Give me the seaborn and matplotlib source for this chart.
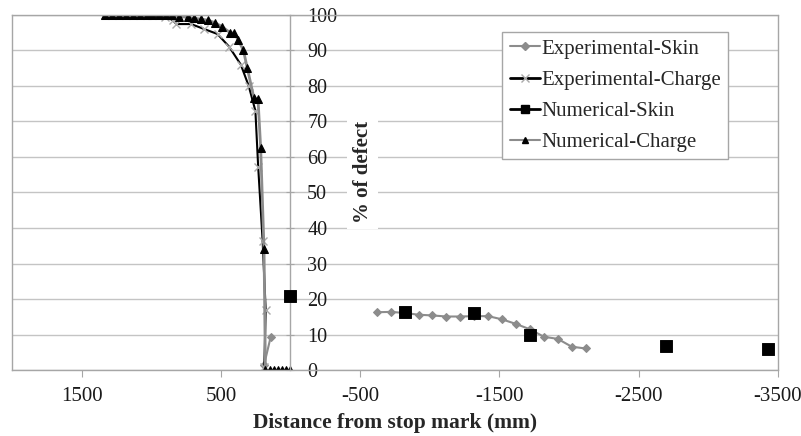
import pandas as pd
import seaborn as sns
import matplotlib.pyplot as plt
from matplotlib.lines import Line2D

# distance from stop mark (mm) and % of defect
exp_skin_x = [190, 143, -620, -720, -820, -920, -1020, -1120, -1220, -1320,
              -1420, -1520, -1620, -1720, -1820, -1920, -2020, -2120]
exp_skin_y = [1.4, 9.2, 16.3, 16.4, 16.1, 15.6, 15.4, 15.1, 15.1, 15.2,
              15.2, 14.3, 13.0, 11.5, 9.4, 8.8, 6.6, 6.1]
exp_skin_seg = [0, 0] + [1] * 16

exp_charge_x = [1330, 1100, 900, 845, 820, 714, 620, 524, 440, 357, 300,
                252, 232, 200, 178, 188]
exp_charge_y = [100, 100, 99.5, 98.5, 97.4, 97.4, 96.0, 94.6, 91.0, 86.0,
                80.0, 73.0, 57.3, 36.4, 16.9, 1.0]

num_skin_x = [0, -820, -1320, -1720, -2700, -3430]
num_skin_y = [21.0, 16.3, 16.0, 10.0, 6.8, 5.9]

num_charge_x = [1333, 1283, 1233, 1183, 1133, 1083, 1033, 993, 945, 893, 850,
                798, 738, 690, 643, 595, 543, 493, 434, 405, 376, 338, 310,
                262, 233, 214, 190, 180, 150, 120, 90, 60, 30, 0]
num_charge_y = [100] * 11 + [99.5, 99.3, 99.0, 98.8, 98.5, 97.8, 96.7, 95.0,
                             94.8, 93.0, 90.0, 85.0, 76.5, 76.2, 62.5, 34.0,
                             0, 0, 0, 0, 0, 0, 0]

x_ticks = [1500, 500, -500, -1500, -2500, -3500]
y_ticks = list(range(0, 101, 10))

grey = "#8c8c8c"
border = "#a6a6a6"
grid = "#c4c4c4"

sns.set_style("white")
plt.rcParams['font.family'] = ['Liberation Serif', 'DejaVu Serif']

fig = plt.figure(figsize=(8.01, 4.36), dpi=100)
ax = fig.add_axes([0.015, 0.151, 0.956, 0.815])

skin = pd.DataFrame({'x': exp_skin_x, 'y': exp_skin_y, 'seg': exp_skin_seg})
sns.lineplot(data=skin, x='x', y='y', units='seg', estimator=None, sort=False,
             color=grey, lw=1.5, marker='D', markersize=4,
             markerfacecolor=grey, markeredgecolor=grey, ax=ax)
sns.lineplot(x=exp_charge_x, y=exp_charge_y, estimator=None, sort=False,
             color='black', lw=1.5, marker='x', markersize=6,
             markeredgecolor="#aaaaaa", markeredgewidth=1, ax=ax)
sns.scatterplot(x=num_skin_x, y=num_skin_y, marker='s', s=65,
                color='black', edgecolor='black', zorder=4, ax=ax)
sns.lineplot(x=num_charge_x, y=num_charge_y, estimator=None, sort=False,
             color=grey, lw=2, marker='^', markersize=5.5,
             markerfacecolor='black', markeredgecolor='black', ax=ax)

ax.set_xlim(2000, -3500)
ax.set_ylim(0, 100)
ax.set_xticks(x_ticks)
ax.set_xticklabels([str(t) for t in x_ticks])
ax.set_yticks(y_ticks)
ax.yaxis.grid(True, color=grid, lw=1)
ax.set_axisbelow(True)

# y axis sits at x = 0, labels to its right
ax.spines['right'].set_position(('data', 0))
ax.yaxis.tick_right()
for s in ax.spines.values():
    s.set_color(border)
    s.set_linewidth(1)
ax.axvline(-3500, color=border, lw=1, clip_on=False)

ax.tick_params(axis='y', right=True, left=False, direction='inout', length=6,
               color=border, pad=9, labelsize=14.5, labelcolor='#1a1a1a')
ax.tick_params(axis='x', bottom=True, direction='out', length=5,
               color=border, pad=7, labelsize=15, labelcolor='#1a1a1a')

ax.set_xlabel('Distance from stop mark (mm)', fontsize=15.5,
              fontweight='bold', labelpad=5)
ax.set_ylabel('% of defect', fontsize=15, fontweight='bold')
ax.yaxis.set_label_position('right')
ax.yaxis.set_label_coords(0.458, 0.558)
ax.yaxis.label.set(ha='center', va='center',
                   bbox=dict(facecolor='white', edgecolor='none', pad=4))

handles = [
    Line2D([], [], color=grey, lw=1.5, marker='D', markersize=4,
           markerfacecolor=grey, markeredgecolor=grey),
    Line2D([], [], color='black', lw=2, marker='x', markersize=6,
           markeredgecolor="#aaaaaa"),
    Line2D([], [], color='black', lw=2, marker='s', markersize=6,
           markerfacecolor='black', markeredgecolor='black'),
    Line2D([], [], color=grey, lw=1.5, marker='^', markersize=5,
           markerfacecolor='black', markeredgecolor='black'),
]
labels = ['Experimental-Skin', 'Experimental-Charge', 'Numerical-Skin',
          'Numerical-Charge']
leg = ax.legend(handles, labels, loc='upper right',
                bbox_to_anchor=(0.935, 0.952), fontsize=15, frameon=True,
                fancybox=False, edgecolor=border, framealpha=1,
                handlelength=1.45, handletextpad=0.05, labelspacing=0.55,
                borderpad=0.35, borderaxespad=0)
leg.get_frame().set_linewidth(1)

fig.savefig('out.png', dpi=100)
